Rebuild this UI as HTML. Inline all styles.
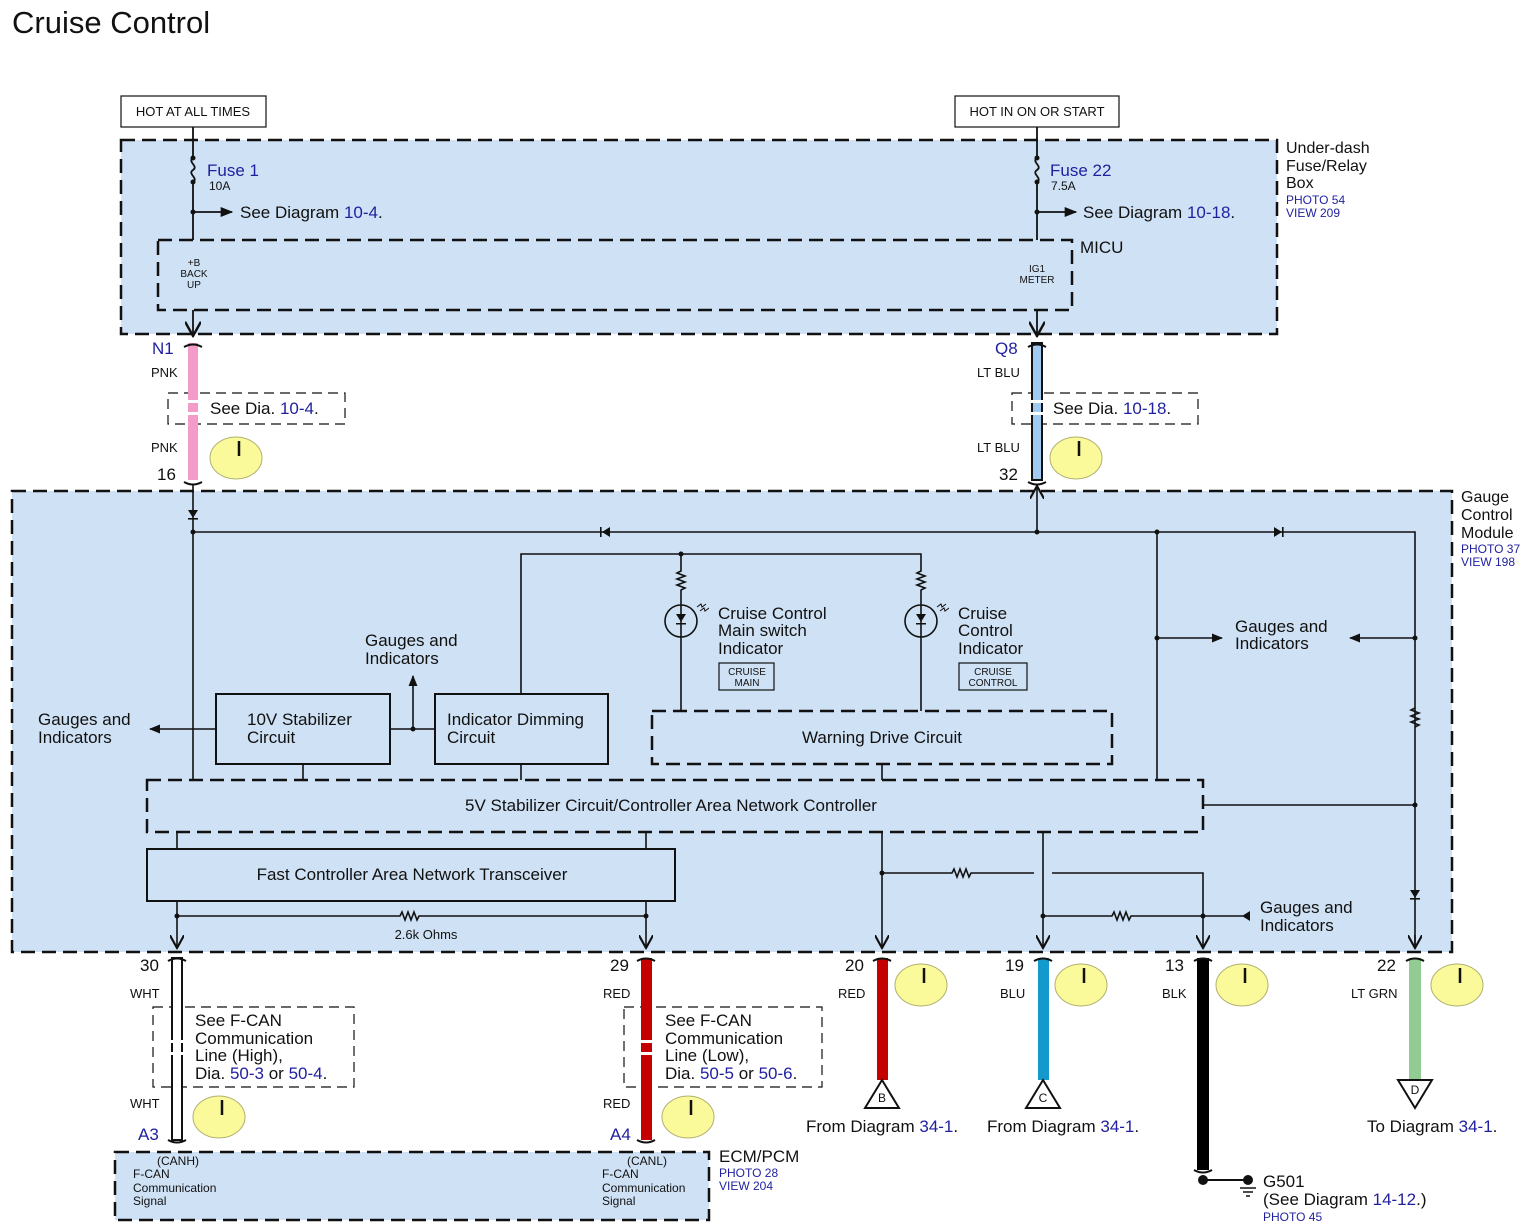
<!DOCTYPE html>
<html><head><meta charset="utf-8"><style>
html,body{margin:0;padding:0;background:#fff}
svg{display:block}
text{font-family:"Liberation Sans",sans-serif;fill:#111}
.b,.b text{fill:#1f1f9f}
</style></head><body>
<svg width="1536" height="1231" viewBox="0 0 1536 1231" xmlns="http://www.w3.org/2000/svg">
<defs>
<marker id="ah" viewBox="0 0 10 10" refX="9" refY="5" markerWidth="7" markerHeight="7" orient="auto"><path d="M0,1 L10,5 L0,9 z" fill="#111"/></marker>
<marker id="av" viewBox="0 0 10 10" refX="9" refY="5" markerWidth="9" markerHeight="9" orient="auto"><path d="M0,0 L9,5 L0,10" fill="none" stroke="#111" stroke-width="1.5"/></marker>
</defs>
<g stroke="#111" stroke-width="2" fill="none">
<text x="12" y="33" font-size="31" stroke="none">Cruise Control</text>

<rect x="121" y="96" width="145" height="31" stroke-width="1.2"/>
<rect x="955" y="96" width="164" height="31" stroke-width="1.2"/>
<rect x="121" y="140" width="1156" height="194" fill="#cfe1f4" stroke-dasharray="14,7" stroke-width="2.5"/>
<rect x="158" y="240" width="914" height="70" stroke-dasharray="14,7" stroke-width="2.5"/>

<rect x="12" y="491" width="1440" height="461" fill="#cfe1f4" stroke-dasharray="14,7" stroke-width="2.5"/>
<rect x="115" y="1152" width="594" height="68" fill="#cfe1f4" stroke-dasharray="14,7" stroke-width="2.5"/>
</g>
<g font-size="13" text-anchor="middle">
<text x="193" y="116">HOT AT ALL TIMES</text>
<text x="1037" y="116">HOT IN ON OR START</text>
</g>
<g stroke="#111" stroke-width="1.8" fill="none">
<path d="M193,127 V158 c-6,4 6,8 0,12 c-6,4 6,8 0,12 V240"/>
<path d="M1037,127 V158 c-6,4 6,8 0,12 c-6,4 6,8 0,12 V240"/>
<path d="M193,212 H232" marker-end="url(#ah)"/>
<path d="M1037,212 H1076" marker-end="url(#ah)"/>
<path d="M193,310 V336" marker-end="url(#av)"/>
<path d="M1037,310 V336" marker-end="url(#av)"/>
</g>
<g fill="#111"><circle cx="193" cy="158" r="2.5"/><circle cx="193" cy="182" r="2.5"/><circle cx="193" cy="212" r="2.5"/><circle cx="1037" cy="158" r="2.5"/><circle cx="1037" cy="182" r="2.5"/><circle cx="1037" cy="212" r="2.5"/></g>
<text x="207" y="176" font-size="17" class="b">Fuse 1</text>
<text x="209" y="190" font-size="12">10A</text>
<text x="240" y="218" font-size="17">See Diagram <tspan class="b">10-4</tspan>.</text>
<text x="1050" y="176" font-size="17" class="b">Fuse 22</text>
<text x="1051" y="190" font-size="12">7.5A</text>
<text x="1083" y="218" font-size="17">See Diagram <tspan class="b">10-18</tspan>.</text>
<g font-size="10" text-anchor="middle"><text x="194" y="266">+B</text><text x="194" y="277">BACK</text><text x="194" y="288">UP</text>
<text x="1037" y="272">IG1</text><text x="1037" y="283">METER</text></g>
<text x="1080" y="253" font-size="17">MICU</text>
<g font-size="16"><text x="1286" y="153">Under-dash</text><text x="1286" y="171">Fuse/Relay</text><text x="1286" y="188">Box</text></g>
<g font-size="12" class="b"><text x="1286" y="204">PHOTO 54</text><text x="1286" y="217">VIEW 209</text></g>

<g stroke="#111" stroke-width="1.2" fill="none">
<rect x="168" y="393" width="177" height="31" stroke-dasharray="10,6"/>
<rect x="1012" y="393" width="186" height="31" stroke-dasharray="10,6"/>
</g>
<rect x="188" y="343" width="10" height="137" fill="#f39cc8"/>
<rect x="1032" y="343" width="10" height="137" fill="#9fcaf1" stroke="#111" stroke-width="2"/>
<rect x="186" y="400" width="14" height="3" fill="#fff"/><rect x="186" y="412" width="14" height="3" fill="#fff"/>
<rect x="1030" y="400" width="14" height="3" fill="#fff"/><rect x="1030" y="412" width="14" height="3" fill="#fff"/>
<g stroke="#111" stroke-width="2" fill="none">
<path d="M184,347 q9,-5 18,0 M184,482 q9,5 18,0 M1028,347 q9,-5 18,0 M1028,482 q9,5 18,0"/>
</g>
<text x="152" y="354" font-size="17" class="b">N1</text>
<text x="995" y="354" font-size="17" class="b">Q8</text>
<g font-size="13"><text x="151" y="377">PNK</text><text x="151" y="452">PNK</text><text x="977" y="377">LT BLU</text><text x="977" y="452">LT BLU</text></g>
<text x="210" y="414" font-size="17">See Dia. <tspan class="b">10-4</tspan>.</text>
<text x="1053" y="414" font-size="17">See Dia. <tspan class="b">10-18</tspan>.</text>
<text x="157" y="480" font-size="17">16</text>
<text x="999" y="480" font-size="17">32</text>
<g fill="#fafa9a" stroke="#b0b070" stroke-width="1">
<ellipse cx="236" cy="458" rx="26" ry="21"/><ellipse cx="1076" cy="458" rx="26" ry="21"/>
<ellipse cx="921" cy="985" rx="26" ry="21"/><ellipse cx="1081" cy="985" rx="26" ry="21"/><ellipse cx="1242" cy="985" rx="26" ry="21"/><ellipse cx="1457" cy="985" rx="26" ry="21"/>
<ellipse cx="219" cy="1117" rx="26" ry="21"/><ellipse cx="688" cy="1117" rx="26" ry="21"/>
</g>
<g stroke="#111" stroke-width="2.5"><path d="M239,441 v15 M1079,441 v15 M924,968 v15 M1084,968 v15 M1245,968 v15 M1460,968 v15 M222,1100 v15 M691,1100 v15"/></g>

<g font-size="16"><text x="1461" y="502">Gauge</text><text x="1461" y="520">Control</text><text x="1461" y="538">Module</text></g>
<g font-size="12" class="b"><text x="1461" y="553">PHOTO 37</text><text x="1461" y="566">VIEW 198</text></g>

<g stroke="#111" stroke-width="1.6" fill="none">
<path d="M193,484 V780"/>
<path d="M193,532 H1415 V945" />
<path d="M1037,532 V486" marker-end="url(#av)"/>
<path d="M521,694 V554 H921 V571 l-4,2 8,3 -8,3 8,3 -8,3 8,3 -4,2 V711"/>
<path d="M681,554 V571 l-4,2 8,3 -8,3 8,3 -8,3 8,3 -4,2 V711"/>
<circle cx="681" cy="621" r="16"/><circle cx="921" cy="621" r="16"/>
<path d="M216,729 H150" marker-end="url(#ah)"/>
<path d="M390,729 H435"/>
<path d="M413,729 V676" marker-end="url(#ah)"/>
<path d="M1157,532 V780"/>
<path d="M1157,638 H1222" marker-end="url(#ah)"/>
<path d="M1415,638 H1350" marker-end="url(#ah)"/>
<path d="M1415,708 l-4,2 8,3 -8,3 8,3 -8,3 8,3 -4,2"/>
<path d="M1203,805 H1415"/>
<path d="M303,764 V780 M521,764 V780 M882,764 V780"/>
<path d="M177,832 V849 M646,832 V849"/>
<path d="M177,901 V948" marker-end="url(#av)"/>
<path d="M646,901 V948" marker-end="url(#av)"/>
<path d="M177,916 H400 l2,-4 3,8 3,-8 3,8 3,-8 3,8 2,-4 H646"/>
<path d="M882,832 V948" marker-end="url(#av)"/>
<path d="M1043,832 V948" marker-end="url(#av)"/>
<path d="M882,873 H952 l2,-4 3,8 3,-8 3,8 3,-8 3,8 2,-4 H1034 M1052,873 H1203 V948" marker-end="url(#av)"/>
<path d="M1043,916 H1112 l2,-4 3,8 3,-8 3,8 3,-8 3,8 2,-4 H1243"/>
<path d="M1415,935 V948" marker-end="url(#av)"/>
</g>
<g fill="#111">
<path d="M188,510 h10 l-5,8 z"/><rect x="188" y="518" width="10" height="1.6"/>
<path d="M610,527 v10 l-8,-5 z"/><rect x="600" y="527" width="1.6" height="10"/>
<path d="M1274,527 v10 l8,-5 z"/><rect x="1282" y="527" width="1.6" height="10"/>
<path d="M1410,890 h10 l-5,8 z"/><rect x="1410" y="898" width="10" height="1.6"/>
<path d="M676,614 h10 l-5,8 z"/><path d="M916,614 h10 l-5,8 z"/>
<rect x="676" y="623" width="10" height="1.5"/><rect x="916" y="623" width="10" height="1.5"/>
<path d="M1250,911 v10 l-8,-5 z"/>
<circle cx="193" cy="532" r="2.5"/><circle cx="1037" cy="532" r="2.5"/><circle cx="1157" cy="532" r="2.5"/>
<circle cx="681" cy="554" r="2.5"/><circle cx="413" cy="729" r="2.5"/><circle cx="1157" cy="638" r="2.5"/><circle cx="1415" cy="638" r="2.5"/><circle cx="1415" cy="805" r="2.5"/>
<circle cx="177" cy="916" r="2.5"/><circle cx="646" cy="916" r="2.5"/><circle cx="882" cy="873" r="2.5"/><circle cx="1043" cy="916" r="2.5"/><circle cx="1203" cy="916" r="2.5"/>
</g>
<g stroke="#111" stroke-width="1" fill="none"><path d="M697,607 l4,-3 1,3 4,-3 M700,611 l4,-3 1,3 4,-3 M937,607 l4,-3 1,3 4,-3 M940,611 l4,-3 1,3 4,-3"/></g>

<g stroke="#111" stroke-width="2" fill="#cfe1f4">
<rect x="216" y="694" width="174" height="70"/>
<rect x="435" y="694" width="173" height="70"/>
<rect x="652" y="711" width="460" height="53" stroke-dasharray="14,7" stroke-width="2.5"/>
<rect x="147" y="780" width="1056" height="52" stroke-dasharray="14,7" stroke-width="2.5"/>
<rect x="147" y="849" width="528" height="52"/>
<rect x="719" y="663" width="55" height="27" stroke-width="1.2"/>
<rect x="959" y="663" width="68" height="27" stroke-width="1.2"/>
</g>
<g font-size="17">
<text x="247" y="725">10V Stabilizer</text><text x="247" y="743">Circuit</text>
<text x="447" y="725">Indicator Dimming</text><text x="447" y="743">Circuit</text>
<text x="365" y="646">Gauges and</text><text x="365" y="664">Indicators</text>
<text x="38" y="725">Gauges and</text><text x="38" y="743">Indicators</text>
<text x="718" y="619">Cruise Control</text><text x="718" y="636">Main switch</text><text x="718" y="654">Indicator</text>
<text x="958" y="619">Cruise</text><text x="958" y="636">Control</text><text x="958" y="654">Indicator</text>
<text x="1235" y="632">Gauges and</text><text x="1235" y="649">Indicators</text>
<text x="1260" y="913">Gauges and</text><text x="1260" y="931">Indicators</text>
<text x="882" y="743" text-anchor="middle">Warning Drive Circuit</text>
<text x="671" y="811" text-anchor="middle">5V Stabilizer Circuit/Controller Area Network Controller</text>
<text x="412" y="880" text-anchor="middle">Fast Controller Area Network Transceiver</text>
</g>
<g font-size="10" text-anchor="middle"><text x="747" y="675">CRUISE</text><text x="747" y="686">MAIN</text><text x="993" y="675">CRUISE</text><text x="993" y="686">CONTROL</text></g>
<text x="426" y="939" font-size="13" text-anchor="middle">2.6k Ohms</text>

<g stroke="#111" stroke-width="1.2" fill="none">
<rect x="153" y="1007" width="201" height="80" stroke-dasharray="10,6"/>
<rect x="624" y="1007" width="198" height="80" stroke-dasharray="10,6"/>
</g>
<rect x="172" y="958" width="10" height="182" fill="#fff" stroke="#111" stroke-width="2"/>
<rect x="641" y="958" width="11" height="182" fill="#c40000"/>
<rect x="877" y="958" width="11" height="122" fill="#c40000"/>
<rect x="1038" y="958" width="11" height="122" fill="#1499cc"/>
<rect x="1197" y="958" width="12" height="212" fill="#000"/>
<rect x="1409" y="958" width="12" height="122" fill="#92cc92"/>
<rect x="170" y="1040" width="14" height="3" fill="#fff"/><rect x="170" y="1052" width="14" height="3" fill="#fff"/>
<rect x="639" y="1040" width="15" height="3" fill="#fff"/><rect x="639" y="1052" width="15" height="3" fill="#fff"/>
<g stroke="#111" stroke-width="2" fill="none">
<path d="M168,961 q9,-5 18,0 M168,1140 q9,5 18,0 M637,961 q9,-5 18,0 M637,1140 q9,5 18,0 M873,961 q9,-5 18,0 M1034,961 q9,-5 18,0 M1194,961 q9,-5 18,0 M1406,961 q9,-5 18,0 M1194,1170 q9,5 18,0"/>
<path d="M865,1108 L882,1080 L899,1108 Z M1026,1108 L1043,1080 L1060,1108 Z M1398,1080 L1432,1080 L1415,1108 Z"/>
<path d="M1203,1180 H1248"/>
<path d="M1240,1188 h16 M1243,1192 h10 M1246,1196 h4" stroke-width="1.5"/>
</g>
<g fill="#111"><circle cx="1203" cy="1180" r="5"/><circle cx="1248" cy="1180" r="5"/></g>
<g font-size="12" text-anchor="middle"><text x="882" y="1102">B</text><text x="1043" y="1102">C</text><text x="1415" y="1094">D</text></g>
<g font-size="17"><text x="140" y="971">30</text><text x="610" y="971">29</text><text x="845" y="971">20</text><text x="1005" y="971">19</text><text x="1165" y="971">13</text><text x="1377" y="971">22</text></g>
<g font-size="13"><text x="130" y="998">WHT</text><text x="130" y="1108">WHT</text><text x="603" y="998">RED</text><text x="603" y="1108">RED</text><text x="838" y="998">RED</text><text x="1000" y="998">BLU</text><text x="1162" y="998">BLK</text><text x="1351" y="998">LT GRN</text></g>
<g font-size="17">
<text x="195" y="1026">See F-CAN</text><text x="195" y="1044">Communication</text><text x="195" y="1061">Line (High),</text><text x="195" y="1079">Dia. <tspan class="b">50-3</tspan> or <tspan class="b">50-4</tspan>.</text>
<text x="665" y="1026">See F-CAN</text><text x="665" y="1044">Communication</text><text x="665" y="1061">Line (Low),</text><text x="665" y="1079">Dia. <tspan class="b">50-5</tspan> or <tspan class="b">50-6</tspan>.</text>
<text x="806" y="1132">From Diagram <tspan class="b">34-1</tspan>.</text>
<text x="987" y="1132">From Diagram <tspan class="b">34-1</tspan>.</text>
<text x="1367" y="1132">To Diagram <tspan class="b">34-1</tspan>.</text>
<text x="1263" y="1187">G501</text><text x="1263" y="1205">(See Diagram <tspan class="b">14-12</tspan>.)</text>
<text x="719" y="1162">ECM/PCM</text>
</g>
<text x="138" y="1140" font-size="17" class="b">A3</text>
<text x="610" y="1140" font-size="17" class="b">A4</text>
<g font-size="12" class="b"><text x="719" y="1177">PHOTO 28</text><text x="719" y="1190">VIEW 204</text><text x="1263" y="1221">PHOTO 45</text></g>
<g font-size="12"><text x="157" y="1165">(CANH)</text><text x="133" y="1178">F-CAN</text><text x="133" y="1192">Communication</text><text x="133" y="1205">Signal</text>
<text x="627" y="1165">(CANL)</text><text x="602" y="1178">F-CAN</text><text x="602" y="1192">Communication</text><text x="602" y="1205">Signal</text></g>
</svg>
</body></html>
